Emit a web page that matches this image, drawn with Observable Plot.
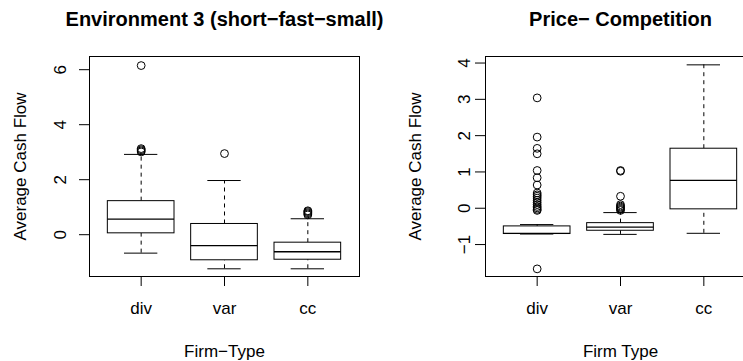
<!DOCTYPE html>
<html>
<head>
<meta charset="utf-8">
<script src="https://cdn.jsdelivr.net/npm/d3@7"></script>
<script src="https://cdn.jsdelivr.net/npm/@observablehq/plot@0.6"></script>
<style>
  html, body { margin: 0; padding: 0; background: white; }
  #wrap { width: 743px; height: 361px; overflow: hidden; display: flex; background: white; }
  #wrap svg { flex: none; }
</style>
</head>
<body>
<div id="wrap"></div>
<script>
// Categories
const types = ["div", "var", "cc"];

// Panel 1: Environment 3 (short-fast-small) — five-number summaries per type
const env3Low  = [-0.67, -1.24, -1.24];
const env3Q1   = [ 0.05, -0.93, -0.91];
const env3Med  = [ 0.57, -0.40, -0.62];
const env3Q3   = [ 1.22,  0.39, -0.29];
const env3High = [ 2.92,  1.97,  0.58];
const env3OutDiv = [6.15, 3.13, 3.09, 3.05, 3.01];
const env3OutVar = [2.95];
const env3OutCc  = [0.72, 0.76, 0.80, 0.84, 0.87];
const env3Ticks = [0, 2, 4, 6];

// Panel 2: Price- Competition
const priceLow  = [-0.71, -0.72, -0.69];
const priceQ1   = [-0.71, -0.62, -0.03];
const priceMed  = [-0.69, -0.52,  0.77];
const priceQ3   = [-0.50, -0.41,  1.64];
const priceHigh = [-0.45, -0.12,  3.95];
const priceOutDiv = [3.04, 1.96, 1.65, 1.50, 1.04, 0.84, 0.64, 0.42, 0.37, 0.33, 0.28, 0.22, 0.16, 0.10, 0.05, 0.01, -0.03, -0.06, -1.67];
const priceOutVar = [1.04, 1.02, 0.33, 0.10, 0.06, 0.03, 0.00, -0.03, -0.06];
const priceOutCc  = [];
const priceTicks = [-1, 0, 1, 2, 3, 4];

const FONT = "'Liberation Sans', Arial, Helvetica, sans-serif";
const fmt = d => d < 0 ? "\u2212" + (-d) : String(d);

function buildStats(low, q1, med, q3, high) {
  return types.map((t, k) => ({t, i: k + 1, low: low[k], q1: q1[k], med: med[k], q3: q3[k], high: high[k]}));
}
function buildOut(lists) {
  const rows = [];
  lists.forEach((arr, k) => arr.forEach(v => rows.push({i: k + 1, v})));
  return rows;
}

function panel({title, xlabel, ylabel, domain, ticks, stats, outs, tickDx, titleDx}) {
  return Plot.plot({
    width: 396, height: 361,
    marginLeft: 89, marginRight: 37, marginTop: 56, marginBottom: 85,
    style: {fontFamily: FONT, fontSize: "17px", background: "white", color: "black", overflow: "visible"},
    x: {domain: [0.38, 3.62]},
    y: {domain},
    marks: [
      Plot.ruleX(stats, {x: "i", y1: "q3", y2: "high", stroke: "black", strokeWidth: 1, strokeDasharray: "4,4"}),
      Plot.ruleX(stats, {x: "i", y1: "low", y2: "q1", stroke: "black", strokeWidth: 1, strokeDasharray: "4,4"}),
      Plot.ruleY(stats, {y: "high", x1: d => d.i - 0.2, x2: d => d.i + 0.2, stroke: "black", strokeWidth: 1}),
      Plot.ruleY(stats, {y: "low", x1: d => d.i - 0.2, x2: d => d.i + 0.2, stroke: "black", strokeWidth: 1}),
      Plot.rect(stats, {x1: d => d.i - 0.4, x2: d => d.i + 0.4, y1: "q1", y2: "q3", fill: "white", stroke: "black", strokeWidth: 1}),
      Plot.ruleY(stats, {y: "med", x1: d => d.i - 0.4, x2: d => d.i + 0.4, stroke: "black", strokeWidth: 1.3}),
      Plot.dot(outs, {x: "i", y: "v", r: 3.9, stroke: "black", strokeWidth: 1, fill: "none"}),
      Plot.frame({stroke: "black", strokeWidth: 1}),
      Plot.axisX({ticks: [1, 2, 3], tickSize: 10, tickPadding: 15, tickFormat: i => types[i - 1], fontSize: 17, label: null, stroke: "black"}),
      Plot.axisY({ticks, tickSize: 10, tickFormat: () => "", label: null, stroke: "black"}),
      Plot.text(ticks, {y: d => d, frameAnchor: "left", text: fmt, rotate: -90, textAnchor: "middle", lineAnchor: "bottom", dx: tickDx, fontSize: 17, fill: "black"}),
      Plot.text([ylabel], {frameAnchor: "left", text: d => d, rotate: -90, textAnchor: "middle", lineAnchor: "top", dx: titleDx, fontSize: 17, fill: "black"}),
      Plot.text([xlabel], {frameAnchor: "bottom", text: d => d, dy: 80, lineAnchor: "bottom", fontSize: 17, fill: "black"}),
      Plot.text([title], {frameAnchor: "top", text: d => d, dy: -31, lineAnchor: "bottom", fontSize: 20, fontWeight: "bold", fill: "black"})
    ]
  });
}

const wrap = document.getElementById("wrap");
wrap.appendChild(panel({
  title: "Environment 3 (short\u2212fast\u2212small)",
  xlabel: "Firm\u2212Type",
  ylabel: "Average Cash Flow",
  domain: [-1.52, 6.48],
  ticks: env3Ticks,
  stats: buildStats(env3Low, env3Q1, env3Med, env3Q3, env3High),
  outs: buildOut([env3OutDiv, env3OutVar, env3OutCc]),
  tickDx: -24, titleDx: -76
}));
wrap.appendChild(panel({
  title: "Price\u2212 Competition",
  xlabel: "Firm Type",
  ylabel: "Average Cash Flow",
  domain: [-1.88, 4.18],
  ticks: priceTicks,
  stats: buildStats(priceLow, priceQ1, priceMed, priceQ3, priceHigh),
  outs: buildOut([priceOutDiv, priceOutVar, priceOutCc]),
  tickDx: -16, titleDx: -77
}));
</script>
</body>
</html>
